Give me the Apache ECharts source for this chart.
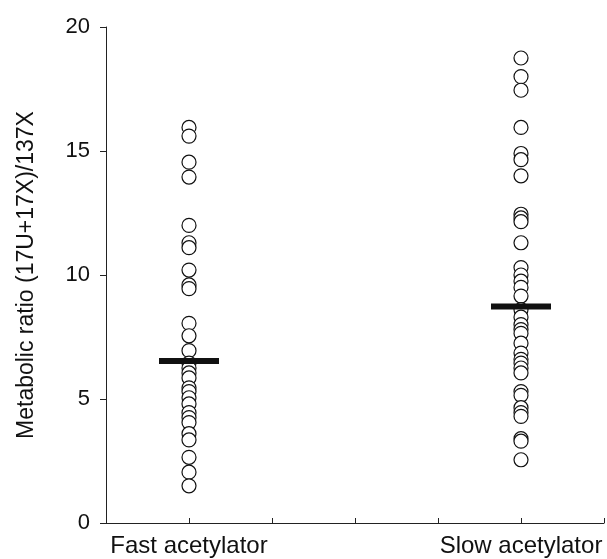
<!DOCTYPE html>
<html>
<head>
<meta charset="utf-8">
<script src="https://cdn.jsdelivr.net/npm/echarts@6/dist/echarts.min.js"></script>
<style>
  html, body { margin: 0; padding: 0; background: #fff; }
  #chart { width: 607px; height: 559px; }
</style>
</head>
<body>
<div id="chart"></div>
<script>
    // groups and where they sit on the x axis (ticks 0..6)
    var groupNames = ['Fast acetylator', 'Slow acetylator'];
    var groupPos = [1, 5];
    var yTicks = [0, 5, 10, 15, 20];

    var fastValues = [15.95, 15.6, 14.55, 13.95, 12.0, 11.3, 11.1, 10.2, 9.6, 9.45,
        8.05, 7.55, 6.95, 6.45, 6.25, 6.05, 5.85, 5.45, 5.3, 5.05,
        4.8, 4.45, 4.25, 4.05, 3.6, 3.35, 2.65, 2.05, 1.5];
    var slowValues = [18.75, 18.0, 17.45, 15.95, 14.9, 14.65, 14.0, 12.45, 12.3, 12.15,
        11.3, 10.3, 10.0, 9.75, 9.5, 9.15, 8.6, 8.3, 8.0, 7.8,
        7.65, 7.25, 6.85, 6.6, 6.45, 6.25, 6.05, 5.3, 5.15, 4.65,
        4.45, 4.3, 3.4, 3.3, 2.55];
    var meanValues = [6.53, 8.73];

    var font = 'Liberation Sans, Arial, sans-serif';
    var myChart = echarts.init(document.getElementById('chart'));

    var pts = [];
    fastValues.forEach(function (v) { pts.push([groupPos[0], v]); });
    slowValues.forEach(function (v) { pts.push([groupPos[1], v]); });

    var means = meanValues.map(function (v, i) { return [groupPos[i], v]; });

    var option = {
        animation: false,
        grid: {
            left: 106,
            right: 1,
            top: 27,
            bottom: 36
        },
        xAxis: {
            type: 'value',
            min: 0,
            max: 6,
            interval: 1,
            axisLine: { show: true, lineStyle: { color: '#222', width: 1 } },
            axisTick: { show: true, inside: true, length: 5, lineStyle: { color: '#222' } },
            splitLine: { show: false },
            axisLabel: {
                color: '#111',
                fontFamily: font,
                fontSize: 24,
                margin: 11,
                showMinLabel: true,
                showMaxLabel: true,
                formatter: function (val) {
                    var i = groupPos.indexOf(val);
                    return i >= 0 ? groupNames[i] : '';
                }
            }
        },
        yAxis: {
            type: 'value',
            min: yTicks[0],
            max: yTicks[yTicks.length - 1],
            interval: 5,
            name: 'Metabolic ratio (17U+17X)/137X',
            nameLocation: 'middle',
            nameGap: 68,
            nameTextStyle: { color: '#111', fontFamily: font, fontSize: 23 },
            axisLine: { show: true, lineStyle: { color: '#222', width: 1 } },
            axisTick: { show: true, length: 6, lineStyle: { color: '#222' } },
            splitLine: { show: false },
            axisLabel: { color: '#111', fontFamily: font, fontSize: 22, margin: 16 }
        },
        series: [{
            type: 'scatter',
            symbol: 'circle',
            symbolSize: 14,
            itemStyle: {
                color: '#fff',
                borderColor: '#111',
                borderWidth: 1.2,
                opacity: 1
            },
            data: pts,
            z: 2
        }, {
            type: 'scatter',
            symbol: 'rect',
            symbolSize: [60, 6],
            itemStyle: { color: '#111', opacity: 1 },
            data: means,
            z: 3
        }]
    };
    myChart.setOption(option);
</script>
</body>
</html>
